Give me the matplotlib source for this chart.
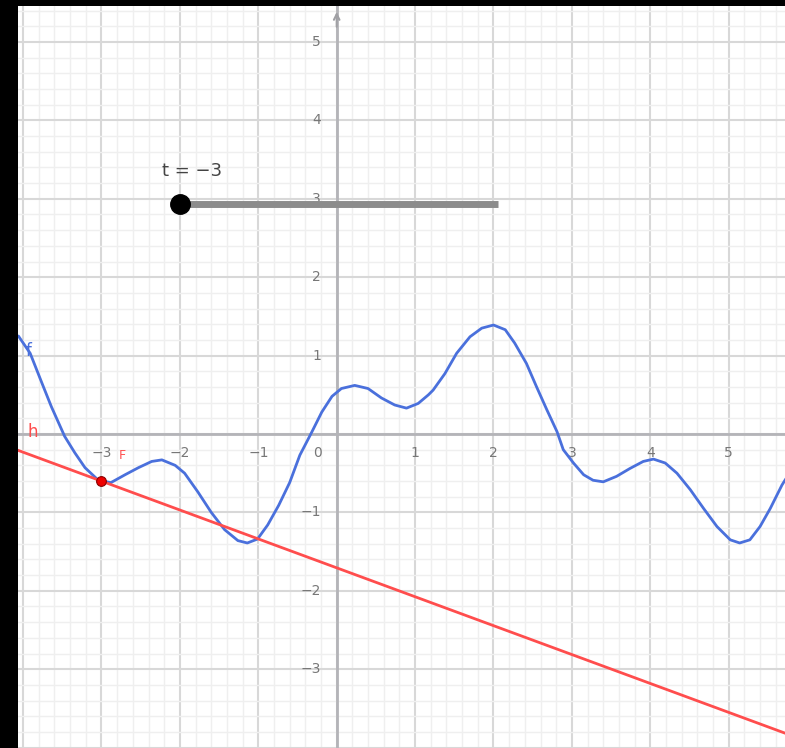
import numpy as np
import matplotlib.pyplot as plt

# blue curve f
f_x = [-4.06, -3.91, -3.76, -3.64, -3.47, -3.34, -3.21, -3.04, -2.88, -2.70,
       -2.53, -2.36, -2.23, -2.06, -1.94, -1.77, -1.60, -1.43, -1.26, -1.14,
       -1.01, -0.88, -0.74, -0.60, -0.47, -0.32, -0.19, -0.06, 0.06, 0.23,
       0.40, 0.57, 0.74, 0.89, 1.04, 1.17, 1.23, 1.38, 1.53, 1.70,
       1.85, 2.00, 2.15, 2.27, 2.42, 2.55, 2.68, 2.81, 2.89, 3.02,
       3.15, 3.27, 3.40, 3.57, 3.74, 3.91, 4.04, 4.19, 4.34, 4.51,
       4.68, 4.85, 5.02, 5.14, 5.27, 5.40, 5.53, 5.68, 5.73]
f_y = [1.25, 1.03, 0.65, 0.35, -0.03, -0.24, -0.43, -0.59, -0.62, -0.52,
       -0.43, -0.35, -0.33, -0.40, -0.50, -0.74, -1.00, -1.22, -1.36, -1.39,
       -1.34, -1.16, -0.91, -0.62, -0.27, 0.02, 0.28, 0.48, 0.58, 0.62,
       0.58, 0.46, 0.37, 0.33, 0.39, 0.50, 0.56, 0.77, 1.03, 1.24,
       1.35, 1.39, 1.33, 1.16, 0.90, 0.60, 0.31, 0.03, -0.20, -0.37,
       -0.52, -0.59, -0.61, -0.54, -0.44, -0.35, -0.32, -0.37, -0.50, -0.71,
       -0.95, -1.18, -1.35, -1.39, -1.35, -1.18, -0.95, -0.65, -0.57]

# red line h (endpoints)
h_x = [-4.06, 5.73]
h_y = [-0.21, -3.82]

# point on f at t
t_val = -3
pt_x, pt_y = -3.0, -0.6

# slider range
slider_x = [-2.0, 2.06]
slider_y = 2.94

xticks = [-3, -2, -1, 1, 2, 3, 4, 5]
yticks = [-3, -2, -1, 1, 2, 3, 4, 5]

W, H = 785, 748
fig = plt.figure(figsize=(W / 100, H / 100), dpi=100, facecolor='black')
ax = fig.add_axes([18 / W, 0, (W - 18) / W, (H - 6) / H])
ax.set_facecolor('white')

# grid
ax.set_xticks(np.arange(-4, 6, 1))
ax.set_yticks(np.arange(-4, 6, 1))
ax.set_xticks(np.arange(-4, 6, 0.2), minor=True)
ax.set_yticks(np.arange(-4, 6, 0.2), minor=True)
ax.grid(which='major', color='#d8d8d8', lw=1.5)
ax.grid(which='minor', color='#efefef', lw=1.0)
ax.tick_params(which='both', length=0, labelbottom=False, labelleft=False)
for s in ax.spines.values():
    s.set_visible(False)

x0, x1 = (18 - 336.7) / 78.4, (785 - 336.7) / 78.4
y1, y0 = (434 - 6) / 78.4, (434 - 748) / 78.4
ax.set_xlim(x0, x1)
ax.set_ylim(y0, y1)

# axes
ax.axhline(0, color='#b4b4b8', lw=2)
ax.axvline(0, color='#b4b4b8', lw=2)
ax.annotate('', xy=(0, y1 - 0.04), xytext=(0, y1 - 0.3),
            arrowprops=dict(arrowstyle='->', color='#a0a0a4', lw=1.5))

for v in xticks:
    ax.text(v, -0.24, str(v).replace('-', '−'), ha='center', va='center',
            fontsize=10, color='#777777')
ax.text(-0.24, -0.24, '0', ha='center', va='center', fontsize=10, color='#777777')
for v in yticks:
    ax.text(-0.2, v, str(v).replace('-', '−'), ha='right', va='center',
            fontsize=10, color='#777777')

# curves
ax.plot(f_x, f_y, color='#4a70dc', lw=2.0, solid_capstyle='round', zorder=4)
ax.plot(h_x, h_y, color='#ff4d4d', lw=2.0, zorder=5)
ax.plot([pt_x], [pt_y], 'o', ms=7, color='#ee0000', mec='#880000', mew=0.8, zorder=6)

ax.text(-3.93, 1.06, 'f', color='#4a70dc', fontsize=12, ha='center', va='center')
ax.text(-3.88, 0.03, 'h', color='#ff4d4d', fontsize=12, ha='center', va='center')
ax.text(-2.74, -0.27, 'F', color='#ff5050', fontsize=9, ha='center', va='center')

# slider
ax.plot(slider_x, [slider_y, slider_y], color='#8c8c8c', lw=5, solid_capstyle='butt', zorder=6)
ax.plot([slider_x[0]], [slider_y], 'o', ms=14, color='black', zorder=7)
ax.text(-2.23, 3.35, 't = −' + str(abs(t_val)), fontsize=13, color='#444444',
        ha='left', va='center')

fig.savefig('out.png', dpi=100, facecolor='black')
